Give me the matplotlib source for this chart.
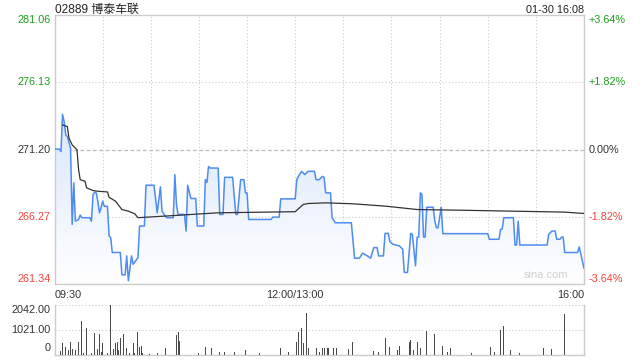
import numpy as np
import matplotlib
matplotlib.use("Agg")
import matplotlib.pyplot as plt

plt.rcParams["font.family"] = ["Liberation Sans", "Noto Sans CJK SC", "DejaVu Sans"]

# minutes since 09:30 (lunch break removed, 330 = 16:00)
price_min = [0, 3, 4, 5, 6, 7, 8, 10, 11, 12, 13, 15, 16, 17, 22, 23, 24, 25, 26, 27,
             28, 29, 30, 31, 33, 34, 35, 36, 41, 42, 44, 45, 46, 48, 49, 52, 53, 56, 57, 62,
             64, 66, 67, 69, 70, 74, 75, 76, 77, 81, 82, 83, 85, 88, 89, 93, 94, 95, 96, 97,
             102, 103, 105, 106, 111, 113, 114, 116, 118, 119, 120, 121, 135, 136, 140, 141, 150, 151, 152, 154,
             156, 158, 162, 163, 165, 167, 168, 169, 172, 173, 175, 185, 187, 190, 192, 194, 195, 197, 199, 201,
             202, 205, 206, 208, 209, 211, 215, 217, 218, 220, 222, 223, 225, 226, 227, 228, 229, 230, 231, 232,
             236, 237, 238, 239, 241, 242, 270, 271, 277, 278, 279, 280, 286, 287, 288, 289, 290, 307, 308, 310,
             312, 313, 315, 316, 317, 318, 326, 327, 330]
price = [271.23, 271.23, 271.05, 273.78, 273.24, 272.27, 272.15, 271.30, 265.71, 268.75, 265.95, 266.07, 266.39, 266.20, 266.20, 265.95, 267.90, 268.07, 268.02, 267.41,
         266.56, 266.93, 267.41, 267.04, 267.04, 264.86, 264.74, 263.65, 263.65, 262.01, 262.01, 263.40, 261.58, 263.40, 262.79, 263.28, 265.59, 265.59, 268.58, 268.58,
         266.56, 268.46, 266.68, 266.32, 266.20, 266.20, 269.36, 267.17, 266.44, 266.44, 265.22, 268.58, 267.61, 267.61, 265.59, 265.59, 268.99, 268.79, 269.96, 269.84,
         269.84, 266.44, 266.44, 269.16, 269.16, 266.44, 266.44, 268.99, 268.99, 268.02, 268.02, 266.07, 266.07, 266.24, 266.24, 267.58, 267.58, 268.99, 269.23, 269.60,
         269.36, 269.60, 269.60, 268.99, 268.99, 269.23, 269.16, 268.02, 268.02, 266.20, 265.83, 265.83, 263.23, 263.23, 263.60, 263.47, 263.40, 263.23, 264.01, 264.01,
         263.40, 263.40, 265.05, 265.05, 264.45, 264.25, 264.13, 263.89, 262.19, 262.19, 265.05, 264.98, 262.67, 264.78, 264.78, 268.02, 267.90, 264.78, 264.78, 266.97,
         266.97, 265.95, 265.47, 265.45, 266.97, 265.03, 265.03, 264.62, 264.62, 265.35, 265.37, 266.20, 266.20, 264.20, 264.20, 265.95, 264.20, 264.20, 264.98, 265.22,
         265.22, 264.62, 264.62, 264.78, 264.78, 263.65, 263.65, 264.06, 262.50]

avg_min = [5, 8, 9, 11, 14, 15, 16, 19, 20, 24, 27, 33, 34, 38, 42, 46, 50, 52, 76, 102,
           150, 155, 158, 169, 186, 207, 226, 253, 318, 330]
avg_price = [273.00, 272.88, 272.03, 271.54, 271.18, 269.72, 268.99, 268.87, 268.39, 268.19, 268.14, 268.09, 267.70, 267.41, 266.80, 266.68, 266.49, 266.20, 266.37, 266.56,
             266.64, 267.17, 267.24, 267.29, 267.22, 267.04, 266.80, 266.75, 266.61, 266.51]

vol_min = [4, 5, 7, 9, 10, 11, 13, 15, 17, 18, 20, 23, 25, 27, 28, 29, 30, 33, 35, 37,
           38, 39, 40, 41, 43, 45, 47, 49, 50, 52, 53, 54, 55, 59, 64, 69, 76, 77, 78, 90,
           94, 98, 103, 106, 112, 119, 128, 141, 146, 151, 152, 153, 154, 155, 157, 158, 163, 165, 167, 168,
           170, 171, 174, 176, 183, 186, 196, 199, 202, 206, 209, 214, 215, 221, 222, 224, 226, 228, 232, 237,
           242, 245, 247, 260, 272, 274, 278, 280, 284, 290, 305, 310, 318, 330]
volume = [150, 500, 340, 200, 540, 230, 200, 540, 1390, 70, 1090, 70, 910, 230, 860, 130, 480, 70, 2040, 250,
          480, 540, 200, 680, 860, 270, 90, 500, 90, 950, 340, 370, 90, 40, 70, 270, 820, 930, 570, 90,
          310, 270, 140, 120, 110, 200, 90, 270, 140, 540, 930, 480, 1090, 480, 1730, 270, 270, 140, 270, 300,
          300, 300, 270, 300, 250, 530, 450, 160, 140, 680, 340, 200, 370, 530, 610, 200, 540, 270, 990, 860,
          370, 140, 270, 70, 310, 140, 1020, 1180, 200, 70, 270, 230, 1670, 570]

prev_close = 271.20
price_ticks = [261.34, 266.27, 271.20, 276.13, 281.06]
pct_labels = ["-3.64%", "-1.82%", "0.00%", "+1.82%", "+3.64%"]
tick_min = [0, 150, 330]
tick_labels = ["09:30", "12:00/13:00", "16:00"]

GREEN = "#1a9e1a"
RED = "#f2433a"
DARK = "#333333"
GRID = "#cccccc"

fig = plt.figure(figsize=(6.4, 3.6), dpi=100)
ax = fig.add_axes([0.0852, 0.2111, 0.8273, 0.7472])
axv = fig.add_axes([0.0852, 0.0139, 0.8273, 0.1389])

ax.set_xlim(0, 330)
ax.set_ylim(price_ticks[0], price_ticks[-1])
for a in (ax, axv):
    a.set_xticks([])
    a.set_yticks([])
    for s in a.spines.values():
        s.set_color(GRID)
        s.set_linewidth(1)

# grid
for m in range(30, 330, 30):
    ax.axvline(m, color=GRID, lw=0.8, ls=(0, (1, 2)), zorder=1)
for p in (price_ticks[1], price_ticks[3]):
    ax.axhline(p, color=GRID, lw=0.8, ls=(0, (1, 2)), zorder=1)
ax.axhline(prev_close, color="#bbbbbb", lw=0.9, ls=(0, (3, 2)), zorder=1)

# gradient fill under price line
poly = ax.fill_between(price_min, price, price_ticks[0], color="none", lw=0)
grad = np.linspace(0, 1, 256).reshape(-1, 1)
cmap = matplotlib.colors.LinearSegmentedColormap.from_list("g", ["#ffffff", "#dae6fb"])
im = ax.imshow(grad, extent=[0, 330, price_ticks[0], 273.8], origin="lower", aspect="auto",
               cmap=cmap, zorder=1.5)
im.set_clip_path(poly.get_paths()[0], transform=ax.transData)

ax.plot(price_min, price, color="#4d8cf0", lw=1.1, zorder=3)
ax.plot(avg_min, avg_price, color="#333333", lw=0.9, zorder=4)

# left / right labels
lab_kw = dict(transform=ax.get_yaxis_transform(), fontsize=7.8)
for i, (p, pl) in enumerate(zip(price_ticks, pct_labels)):
    col = RED if p < prev_close else (GREEN if p > prev_close else DARK)
    va = "bottom" if i == 0 else ("top" if i == len(price_ticks) - 1 else "center")
    ax.text(-0.008, p, f"{p:.2f}", ha="right", va=va, color=col, **lab_kw)
    ax.text(1.008, p, pl, ha="left", va=va, color=col, **lab_kw)

# time labels
for m, t in zip(tick_min, tick_labels):
    ha = "left" if m == 0 else ("right" if m == 330 else "center")
    ax.text(m, -0.022, t, transform=ax.get_xaxis_transform(), ha=ha, va="top",
            fontsize=7.8, color=DARK)

fig.text(0.0852, 0.988, "02889 博泰车联", ha="left", va="top", fontsize=8.6, color="#222222")
fig.text(0.9125, 0.985, "01-30 16:08", ha="right", va="top", fontsize=7.8, color="#222222")
ax.text(0.97, 0.015, "sina.com", transform=ax.transAxes, ha="right", va="bottom",
        fontsize=8, color="#d0d0d0")

# volume
axv.set_xlim(0, 330)
axv.set_ylim(0, 2042)
axv.bar(vol_min, volume, width=0.6, color="#4a4a4a", zorder=3)
axv.spines["top"].set_visible(False)
axv.axhline(2042, color=GRID, lw=0.8, ls=(0, (1, 2)))
axv.axhline(1021, color=GRID, lw=0.8, ls=(0, (1, 2)))
vkw = dict(transform=axv.get_yaxis_transform(), fontsize=7.8, color=DARK, ha="right")
axv.text(-0.008, 2042, "2042.00", va="top", **vkw)
axv.text(-0.008, 1021, "1021.00", va="center", **vkw)
axv.text(-0.008, 80, "0", va="bottom", **vkw)

fig.savefig("out.png", dpi=100)
